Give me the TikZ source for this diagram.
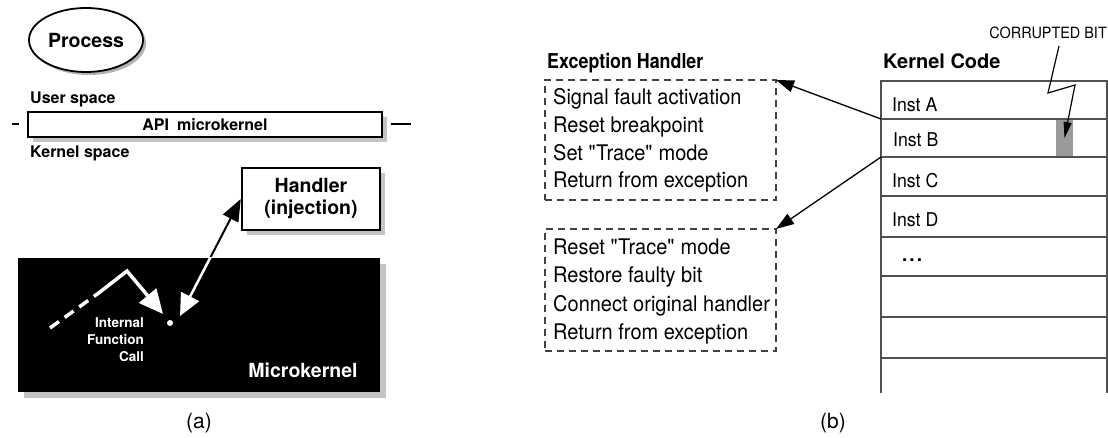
\documentclass[tikz,border=0pt]{standalone}
\usepackage{fontspec}
\setmainfont{TeX Gyre Heros}
\newfontfamily\narrowsf[FakeStretch=0.93]{TeX Gyre Heros}
\newfontfamily\condsf[FakeStretch=0.87]{TeX Gyre Heros}
\usetikzlibrary{arrows.meta,shapes.geometric}
\newcommand{\fsz}[2]{\fontsize{#1}{#2}\selectfont}
\definecolor{shadegray}{HTML}{C4C4C4}
\definecolor{tablegray}{HTML}{505050}
\definecolor{bitgray}{HTML}{9A9A9A}
\begin{document}
\begin{tikzpicture}[x=1pt,y=-1pt,
  lbl/.style={inner sep=0pt, anchor=base west},
  bsmall/.style={font=\bfseries\fsz{16}{19}},
  bbig/.style={font=\bfseries\fsz{19.5}{22}},
  body/.style={font=\narrowsf\fsz{21.5}{24}},
  cell/.style={font=\narrowsf\fsz{19}{22}},
  castshadow/.style={preaction={draw=none, fill=shadegray,
    transform canvas={shift={(#1,-#1)}}}},
  thickbox/.style={draw, line width=2.5pt, fill=white, castshadow=5pt},
  dbox/.style={draw=black!75, line width=1.1pt, dash pattern=on 7pt off 5pt,
    inner sep=0pt, outer sep=0pt, anchor=north west},
  krow/.style={draw=tablegray, line width=1.2pt, minimum width=226pt,
    inner sep=0pt, outer sep=0pt, anchor=north west},
  ptr/.style={line width=1.3pt, -{Triangle[length=18pt,width=12pt]}},
  inv/.style={white, line width=3.5pt},
  sublabel/.style={anchor=base, inner sep=0pt, font=\fsz{21}{24}}
]
\useasboundingbox (0,0) rectangle (1108,438);

% ---------------- (a) microkernel view ----------------
\node[ellipse, draw, line width=1.8pt, fill=white, minimum width=114pt,
  minimum height=64pt, inner sep=0pt, bbig,
  preaction={draw=none, fill=gray!60, transform canvas={shift={(3pt,-3pt)}}}]
  (proc) at (86,40) {Process};

\node[lbl, bsmall] (us) at (30,104) {User space};
\node[thickbox, minimum width=354pt, minimum height=25pt, inner sep=0pt, bsmall]
  (api) at (205,124.5) {API\enspace microkernel};
\draw[line width=2pt] (api.west) ++(-15,0) -- ++(7,0);
\draw[line width=2pt] (api.east) ++(8,0) -- ++(20,0);
\node[lbl, bsmall] (ks) at (30,158) {Kernel space};

\node[thickbox, minimum width=138pt, minimum height=62pt, inner sep=0pt,
  align=center, bbig] (hdl) at (311,199) {Handler\\(injection)};

\node[fill=black, minimum width=362pt, minimum height=134pt, inner sep=0pt,
  castshadow=6pt] (mk) at (199,325) {};
\node[anchor=base, inner sep=0pt, white, bbig] (mkt) at (303,377) {Microkernel};

\node[anchor=base east, inner sep=0pt, white, font=\bfseries\fsz{13.5}{16}] (if1) at (144,327) {Internal};
\node[anchor=base east, inner sep=0pt, white, font=\bfseries\fsz{13.5}{16}] (if2) at (144,344) {Function};
\node[anchor=base east, inner sep=0pt, white, font=\bfseries\fsz{13.5}{16}] (if3) at (144,361) {Call};

% internal call path
\coordinate (w0) at (50,328);
\coordinate (w1) at (100,292);
\coordinate (w2) at (127,271);
\coordinate (w3) at (163,314);
\draw[inv, dash pattern=on 11pt off 7pt] (w0) -- (w1);
\draw[inv, -{Triangle[length=24pt,width=22pt]}] (w1) -- (w2) -- (w3);
\node[circle, fill=white, inner sep=0pt, minimum size=6pt] (dot) at (170,323) {};

% two-way link between the call point and the handler
\coordinate (hs) at (180,316);
\draw[line width=2pt, -{Triangle[length=22pt,width=17pt]}] (hs) -- (hdl.west);
\begin{scope}
  \clip (mk.north west) rectangle (mk.south east);
  \draw[white, line width=2.5pt, {Triangle[length=22pt,width=20pt]}-] (hs) -- (hdl.west);
\end{scope}

\node[sublabel] (la) at (199,428) {(a)};

% ---------------- (b) exception handler view ----------------
\node[lbl, font=\condsf\bfseries\fsz{20.5}{24}] (eh) at (547,69) {Exception Handler};

\node[dbox, minimum width=231pt, minimum height=120pt] (b1) at (545,80) {};
\node[lbl, body] (t11) at (553,105) {Signal fault activation};
\node[lbl, body] (t12) at (553,133) {Reset breakpoint};
\node[lbl, body] (t13) at (553,161) {Set \textquotedbl Trace\textquotedbl{} mode};
\node[lbl, body] (t14) at (553,188) {Return from exception};

\node[dbox, minimum width=231pt, minimum height=122pt] (b2) at (545,229) {};
\node[lbl, body] (t21) at (553,255) {Reset \textquotedbl Trace\textquotedbl{} mode};
\node[lbl, body] (t22) at (553,283) {Restore faulty bit};
\node[lbl, body] (t23) at (553,312) {Connect original handler};
\node[lbl, body] (t24) at (553,339) {Return from exception};

\node[lbl, font=\bfseries\fsz{20}{24}] (kc) at (883,69) {Kernel Code};

% corrupted bit marker (under the row borders)
\node[fill=bitgray, minimum width=17pt, minimum height=38pt, inner sep=0pt,
  outer sep=0pt, anchor=north west] (cb) at (1056,119) {};

% kernel code rows
\node[krow, minimum height=38pt] (rA) at (881,81) {};
\node[krow, minimum height=38pt] (rB) at (rA.south west) {};
\node[krow, minimum height=39pt] (rC) at (rB.south west) {};
\node[krow, minimum height=41pt] (rD) at (rC.south west) {};
\node[krow, minimum height=39pt] (rE) at (rD.south west) {};
\node[krow, minimum height=41pt] (rF) at (rE.south west) {};
\node[krow, minimum height=41pt] (rG) at (rF.south west) {};
\draw[draw=tablegray, line width=1.2pt] (rG.south west) -- ++(0,35);
\draw[draw=tablegray, line width=1.2pt] (rG.south east) -- ++(0,35);

\node[lbl, cell] (iA) at (892,112) {Inst A};
\node[lbl, cell] (iB) at (893,147) {Inst B};
\node[lbl, cell] (iC) at (892,188) {Inst C};
\node[lbl, cell] (iD) at (892,227) {Inst D};
\node[lbl, cell, font=\bfseries\fsz{19}{22}] (iE) at (902,262) {.\kern2pt.\kern2pt.};

\node[anchor=base east, inner sep=0pt, font=\narrowsf\fsz{15.5}{17}] (cbt) at (1107,39) {CORRUPTED BIT};
\coordinate (z0) at (1059,46);
\coordinate (z1) at (1048,93);
\coordinate (z2) at (1075,85);
\draw[line width=1.2pt, -{Triangle[length=16pt,width=8pt]}] (z0) -- (z1) -- (z2) -- (cb.center);

\draw[ptr] (rA.south west) -- (b1.north east);
\draw[ptr] (rB.south west) -- (b2.north east);

\node[sublabel] (lb) at (833,428) {(b)};
\end{tikzpicture}
\end{document}
